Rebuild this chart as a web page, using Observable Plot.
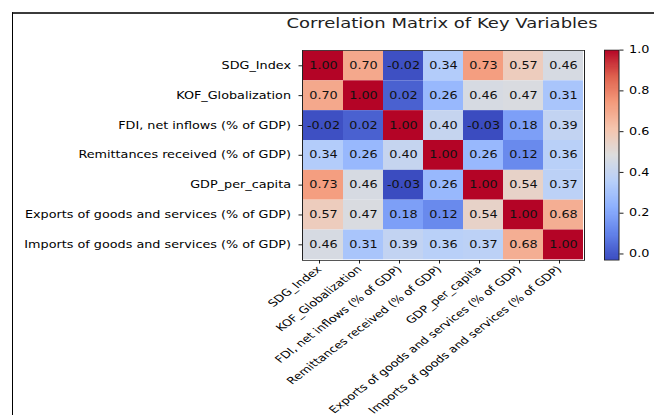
<!DOCTYPE html>
<html>
<head>
<meta charset="utf-8">
<script src="https://cdn.jsdelivr.net/npm/d3@7"></script>
<script src="https://cdn.jsdelivr.net/npm/@observablehq/plot@0.6"></script>
<style>
  html, body { margin: 0; padding: 0; background: #fff; overflow: hidden; }
  #outer { position: relative; width: 654px; height: 415px; overflow: hidden; }
  #root { position: absolute; left: 0; top: 0; width: 654px; height: 542.5px; transform-origin: 0 0; transform: scale(1, 0.765); font-family: "DejaVu Sans", sans-serif; }
  #frame { position: absolute; left: 12px; top: 16px; width: 660px; height: 560px; border-left: 1.5px solid #000; border-top: 2px solid #000; }
  #title { position: absolute; left: 242px; width: 400px; top: 20px; text-align: center; font-size: 18px; color: #222; }
  .abs { position: absolute; left: 0; top: 0; }
  #main { width: 654px; }
  #cbar { width: 60px; }
  svg { max-width: none !important; }
</style>
</head>
<body>
<div id="outer">
<div id="root">
  <div id="frame"></div>
  <div id="title">Correlation Matrix of Key Variables</div>
  <div id="main" class="abs"></div>
  <div id="cbar" class="abs" style="left:604px; top:55.4px;"></div>
</div>
</div>
<script>
const variables = [
  "SDG_Index",
  "KOF_Globalization",
  "FDI, net inflows (% of GDP)",
  "Remittances received (% of GDP)",
  "GDP_per_capita",
  "Exports of goods and services (% of GDP)",
  "Imports of goods and services (% of GDP)"
];
const corrRows = [
  [1.00, 0.70, -0.02, 0.34, 0.73, 0.57, 0.46],
  [0.70, 1.00, 0.02, 0.26, 0.46, 0.47, 0.31],
  [-0.02, 0.02, 1.00, 0.40, -0.03, 0.18, 0.39],
  [0.34, 0.26, 0.40, 1.00, 0.26, 0.12, 0.36],
  [0.73, 0.46, -0.03, 0.26, 1.00, 0.54, 0.37],
  [0.57, 0.47, 0.18, 0.12, 0.54, 1.00, 0.68],
  [0.46, 0.31, 0.39, 0.36, 0.37, 0.68, 1.00]
];
const colorbarTicks = [0.0, 0.2, 0.4, 0.6, 0.8, 1.0];

const cells = [];
corrRows.forEach((row, i) => row.forEach((v, j) => cells.push({row: variables[i], col: variables[j], value: v})));

const vmin = d3.min(cells, d => d.value);
const vmax = d3.max(cells, d => d.value);

const coolwarm = d3.piecewise(d3.interpolateRgb, [
  "#3b4cc0", "#6282ea", "#8db0fe", "#b8d0f9", "#dddddd",
  "#f5c4ad", "#f49a7b", "#de604d", "#b40426"
]);

const FS = 12.8;

const main = Plot.plot({
  width: 654,
  height: 542.5,
  marginLeft: 302,
  marginRight: 70,
  marginTop: 65.4,
  marginBottom: 202.6,
  style: {fontFamily: "DejaVu Sans", fontSize: FS + "px", color: "#000", background: "transparent", overflow: "visible"},
  x: {domain: variables, padding: 0},
  y: {domain: variables, padding: 0},
  color: {type: "linear", domain: [vmin, vmax], interpolate: coolwarm},
  marks: [
    Plot.cell(cells, {x: "col", y: "row", fill: "value", inset: 0}),
    Plot.text(cells, {x: "col", y: "row", text: d => d.value.toFixed(2), fill: "#111", fontSize: FS}),
    Plot.frame({stroke: "#222", strokeWidth: 1}),
    Plot.axisY({tickSize: 3.5, tickPadding: 8, label: null, fontSize: FS}),
    Plot.axisX({tickSize: 4.6, tickPadding: 5, tickRotate: -45, label: null, fontSize: FS, textAnchor: "end", dx: -4})
  ]
});
document.getElementById("main").appendChild(main);

const nSteps = 200;
const strips = d3.range(nSteps).map(i => ({y1: vmin + (vmax - vmin) * i / nSteps, y2: vmin + (vmax - vmin) * (i + 1) / nSteps}));
const cbar = Plot.plot({
  width: 54,
  height: 294.5,
  marginLeft: 0,
  marginRight: 39.5,
  marginTop: 10,
  marginBottom: 10,
  style: {fontFamily: "DejaVu Sans", fontSize: FS + "px", color: "#000", background: "transparent", overflow: "visible"},
  x: {domain: [0, 1], axis: null},
  y: {domain: [vmin, vmax]},
  color: {type: "linear", domain: [vmin, vmax], interpolate: coolwarm},
  marks: [
    Plot.rect(strips, {x1: 0, x2: 1, y1: "y1", y2: "y2", fill: d => (d.y1 + d.y2) / 2, shapeRendering: "crispEdges"}),
    Plot.frame({stroke: "#222", strokeWidth: 1}),
    Plot.axisY({anchor: "right", ticks: colorbarTicks, tickFormat: d => d.toFixed(1), tickSize: 4, tickPadding: 6, label: null, fontSize: FS})
  ]
});
document.getElementById("cbar").appendChild(cbar);
</script>
</body>
</html>
